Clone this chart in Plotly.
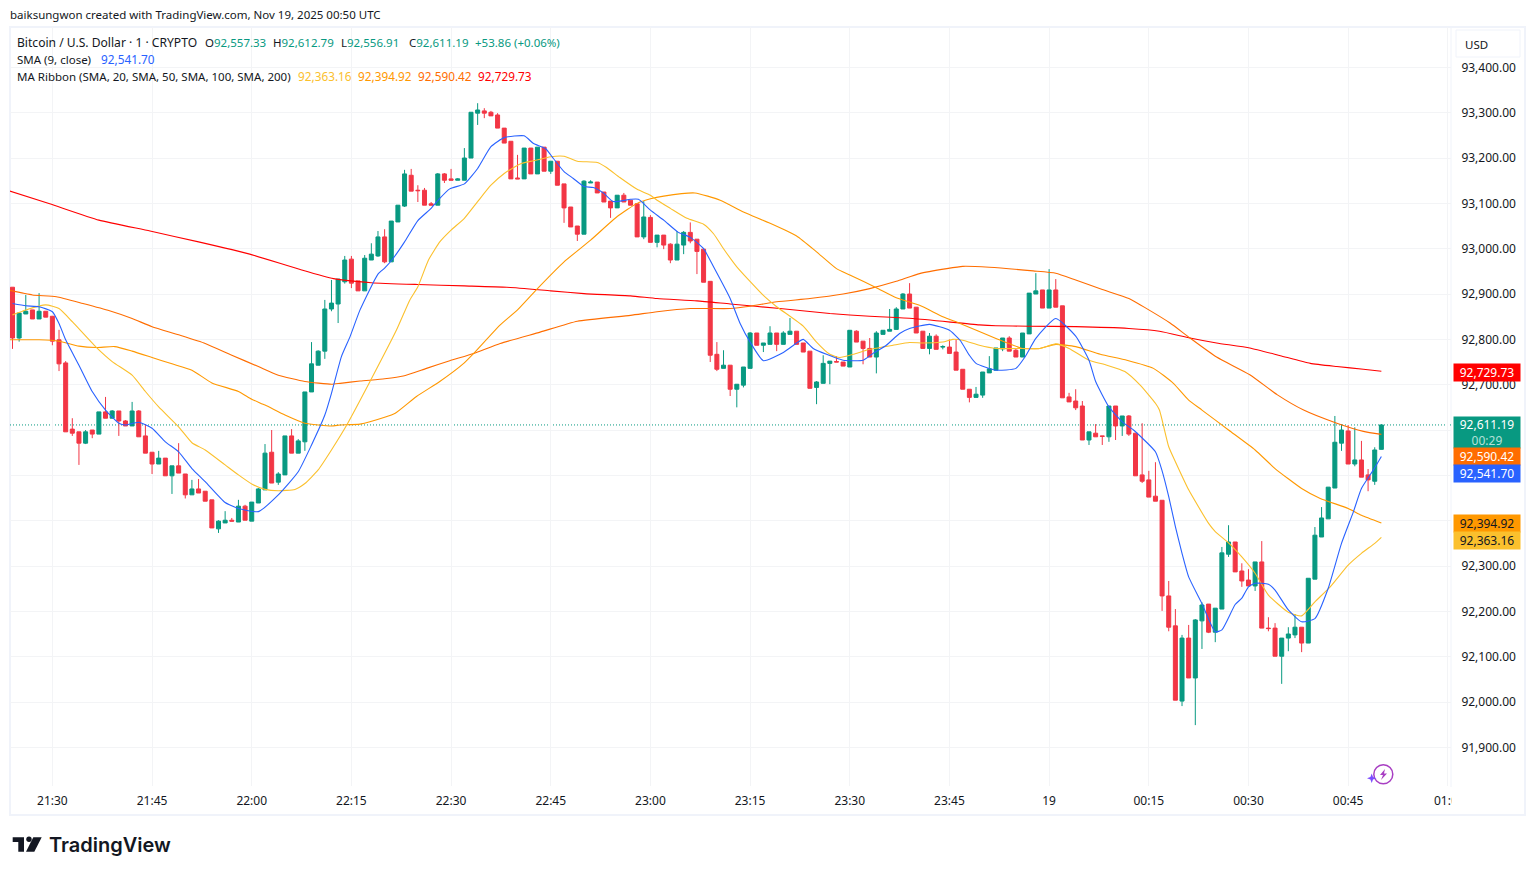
import pandas as pd
import plotly.graph_objects as go

# ---------- data ----------
opens = [92915,92803,92856,92865,92845,92862,92851,92799,92748,92602,
92596,92571,92600,92591,92640,92626,92642,92620,92609,92642,
92587,92551,92525,92538,92499,92521,92503,92457,92470,92465,
92446,92382,92395,92401,92397,92432,92399,92439,92468,92551,
92485,92501,92587,92549,92574,92684,92743,92774,92867,92878,
92927,92977,92929,92907,92975,92984,93026,92971,93059,93094,
93162,93129,93129,93099,93096,93165,93154,93151,93151,93200,
93299,93304,93301,93295,93266,93237,93156,93154,93222,93165,
93224,93171,93193,93143,93092,93050,93032,93145,93147,93125,
93105,93090,93118,93107,93099,93026,93069,93014,93030,93010,
92975,93008,93036,93021,92999,92928,92767,92736,92743,92690,
92699,92736,92814,92787,92789,92814,92789,92811,92818,92792,
92774,92694,92703,92747,92751,92750,92739,92818,92796,92780,
92761,92811,92818,92822,92867,92900,92871,92818,92780,92807,
92783,92783,92772,92734,92690,92672,92677,92726,92732,92779,
92803,92776,92761,92812,92900,92909,92869,92909,92874,92673,
92664,92653,92578,92593,92587,92585,92653,92609,92631,92593,
92501,92490,92454,92445,92234,92168,92002,92141,92053,92179,
92216,92154,92205,92326,92353,92289,92269,92256,92309,92163,
92163,92101,92141,92148,92165,92130,92271,92364,92404,92472,
92571,92598,92525,92534,92501,92487,92557.33]
highs = [92915,92858,92898,92865,92902,92862,92851,92821,92752,92626,
92596,92600,92600,92640,92673,92644,92642,92622,92662,92644,
92613,92551,92554,92538,92521,92571,92503,92490,92492,92465,
92446,92401,92421,92406,92446,92435,92441,92472,92569,92600,
92507,92587,92602,92580,92684,92794,92776,92887,92931,92933,
92984,92984,92929,92986,93012,93039,93043,93061,93096,93174,
93176,93140,93134,93103,93167,93167,93176,93156,93222,93301,
93321,93310,93304,93299,93266,93237,93207,93222,93222,93224,
93224,93193,93193,93143,93092,93050,93151,93151,93147,93125,
93105,93118,93123,93107,93099,93105,93074,93030,93030,93012,
93039,93039,93058,93021,92999,92928,92794,92776,92743,92701,
92739,92816,92814,92792,92829,92814,92818,92847,92818,92792,
92774,92708,92765,92752,92763,92750,92820,92820,92796,92803,
92818,92820,92867,92871,92902,92924,92871,92818,92814,92811,
92787,92800,92800,92734,92690,92695,92728,92763,92781,92803,
92807,92779,92814,92902,92946,92909,92955,92933,92874,92682,
92690,92664,92596,92613,92587,92653,92653,92631,92633,92593,
92615,92510,92529,92445,92267,92205,92148,92170,92183,92220,
92216,92207,92342,92390,92353,92306,92293,92309,92355,92187,
92174,92141,92165,92194,92165,92273,92386,92430,92474,92631,
92613,92611,92606,92576,92514,92562,92612.79]
lows = [92779,92795,92856,92845,92845,92849,92787,92730,92596,92587,
92523,92569,92582,92591,92626,92626,92587,92609,92609,92585,
92549,92503,92525,92499,92459,92505,92449,92457,92461,92443,
92384,92373,92395,92399,92397,92401,92399,92439,92468,92483,
92479,92501,92549,92549,92554,92684,92743,92757,92862,92836,
92923,92913,92907,92907,92975,92982,92968,92971,93059,93092,
93127,93103,93096,93096,93096,93145,93151,93151,93151,93200,
93273,93288,93293,93266,93233,93154,93154,93154,93165,93165,
93171,93165,93140,93057,93048,93017,93032,93145,93123,93103,
93068,93090,93103,93096,93026,93021,93014,93003,92999,92968,
92975,92988,93012,92944,92926,92750,92730,92736,92675,92650,
92694,92736,92787,92772,92789,92774,92789,92811,92789,92772,
92692,92657,92703,92701,92750,92741,92739,92794,92745,92761,
92725,92811,92818,92822,92867,92869,92814,92780,92767,92778,
92778,92769,92732,92690,92661,92672,92671,92726,92732,92774,
92774,92761,92761,92812,92900,92869,92869,92871,92671,92662,
92644,92578,92567,92585,92567,92574,92578,92587,92587,92499,
92483,92452,92443,92201,92156,92004,91991,92053,91949,92117,
92152,92132,92205,92320,92287,92254,92256,92245,92163,92156,
92101,92040,92112,92141,92110,92130,92271,92364,92404,92472,
92554,92525,92520,92496,92465,92479,92556.91]
closes = [92803,92858,92862,92845,92862,92849,92796,92746,92596,92593,
92571,92596,92591,92640,92626,92642,92620,92609,92642,92585,
92549,92525,92538,92499,92521,92505,92457,92470,92461,92443,
92384,92399,92401,92399,92432,92401,92441,92470,92549,92483,
92503,92587,92549,92576,92684,92746,92774,92867,92880,92933,
92975,92924,92907,92979,92988,93026,92971,93061,93096,93165,
93127,93128,93096,93096,93165,93151,93151,93154,93200,93301,
93306,93299,93293,93266,93233,93154,93154,93222,93165,93224,
93171,93193,93140,93090,93048,93032,93149,93147,93123,93103,
93090,93118,93103,93096,93026,93070,93014,93030,93008,92975,
93010,93036,93017,92994,92926,92765,92734,92743,92690,92701,
92739,92814,92787,92792,92814,92789,92814,92818,92789,92772,
92692,92706,92747,92752,92750,92741,92820,92794,92780,92761,
92814,92820,92822,92867,92900,92869,92814,92780,92807,92778,
92784,92769,92732,92690,92672,92679,92728,92735,92781,92803,
92774,92761,92814,92902,92907,92869,92909,92871,92671,92662,
92649,92578,92596,92585,92586,92653,92609,92631,92591,92499,
92487,92452,92443,92234,92165,92004,92141,92053,92181,92214,
92154,92207,92329,92353,92287,92267,92256,92309,92163,92162,
92101,92141,92150,92165,92130,92273,92368,92406,92474,92573,
92600,92525,92534,92496,92490,92556,92611.19]

# line readings: minutes after 21:24 and price
sma9_t = [0,2,4,6,7,8,10,12,14,16,17,19,21,23,25,27,29,32,34,37,40,43,45,47,48,49.5,50.8,52.3,55,56,57.3,59,61,63,64.3,65.8,68,70,72,74,77,78.4,80.2,81.4,83,84.4,86,87.4,89,90.4,93,94.2,96,98,100.2,102,104,105.5,108,109.5,111,113,116,118,119,120.5,122.5,125,128,129.5,131.5,133.5,135,138,141,142.6,144,145,148,151,152.4,154,157,160,162,163,165,167,168.7,172,173,174,175,176,177,179,181,182,184,185,186,187,189,190,192,194,196,198,200,201.8,203,204.8,206]
sma9_v = [92879,92874,92872,92861,92835,92799,92743,92685,92644,92615,92611,92617,92604,92574,92552,92515,92486,92440,92427,92420,92457,92508,92567,92633,92681,92762,92806,92865,92944,92957,92979,93015,93062,93089,93111,93132,93143,93177,93225,93245,93249,93232,93221,93199,93170,93155,93137,93135,93122,93104,93109,93109,93085,93063,93036,93025,93000,92960,92890,92835,92794,92753,92771,92792,92800,92780,92767,92754,92754,92769,92787,92813,92824,92833,92820,92798,92765,92747,92732,92736,92762,92802,92846,92807,92754,92707,92651,92618,92600,92552,92510,92453,92387,92328,92276,92217,92155,92159,92215,92229,92254,92262,92260,92247,92203,92177,92184,92251,92350,92420,92471,92512,92541.70]

sma20_t = [0,2,5,7,9,12.5,15,18,20,22,25,27,29,32,34,36,38,40,42.5,44,46,48,50.3,53.8,57.8,59.8,61,62.6,64.3,66,68,70,72,74,76.4,78.4,81,83,85,88,89.4,91.4,94,96,97,99,101.5,104,105.5,107,109,113,115,119,121,123,124.5,126.5,129,132.5,135,137,140,141.5,143,145.5,148,152,154.6,157,159,162,164.7,167.4,169.7,172,172.6,174,175,177,180,181,183,185,187,189,192,194,196,198.3,201,203,205,206]
sma20_v = [92854,92865,92876,92868,92839,92784,92751,92721,92685,92651,92607,92572,92556,92523,92501,92481,92469,92466,92469,92482,92512,92556,92611,92707,92821,92887,92916,92975,93015,93041,93067,93104,93140,93166,93187,93194,93203,93204,93193,93190,93179,93157,93131,93118,93107,93089,93067,93054,93033,93000,92960,92897,92872,92829,92794,92767,92760,92767,92778,92787,92793,92792,92794,92800,92798,92787,92780,92780,92780,92790,92780,92754,92743,92729,92699,92659,92644,92563,92530,92468,92394,92376,92351,92320,92284,92236,92198,92190,92221,92254,92302,92328,92350,92363.16]

sma50_t = [-0.4,4,7,10,12.6,15.4,18,21,24,27,30,34,36,38,41,44,48,49.3,52.3,56,57.6,60.8,64.3,67.9,69.4,73.4,76,79,83,87,91,94,96,98,102.7,106.5,110,114,118,121,124,126,130,133,136.5,140,142.6,148,152,154.6,157,160,163.7,167.7,171.7,174.7,177,179,183,187,190,194,196.8,201,203,206]
sma50_v = [92799,92799,92796,92785,92782,92784,92774,92760,92746,92732,92704,92685,92668,92655,92633,92615,92609,92611,92613,92628,92637,92674,92707,92747,92769,92832,92865,92912,92971,93019,93071,93100,93110,93116,93123,93107,93081,93056,93028,92993,92956,92942,92914,92892,92875,92850,92835,92802,92780,92780,92789,92784,92767,92754,92736,92703,92666,92644,92600,92556,92515,92471,92449,92427,92412,92394.92]

sma100_t = [-0.4,3,6.6,10.6,14.6,18,21,25,29,33,37,40,44,48,49.3,52.3,56,58.8,62.3,65.8,69.4,73.4,79.4,85,93,97,102,108,111,115,120,125,129,133,136.5,140.6,143,147,153.6,157,160,164,168,171,174.2,177.2,181.2,186.2,190.3,194.3,199.3,203.3,206]
sma100_v = [92908,92898,92894,92879,92863,92846,92828,92810,92791,92765,92740,92721,92707,92701,92703,92708,92713,92719,92736,92753,92769,92791,92816,92840,92853,92861,92868,92868,92873,92883,92890,92900,92912,92928,92945,92956,92961,92959,92951,92946,92931,92910,92890,92865,92836,92803,92761,92722,92678,92644,92615,92597,92590.42]

sma200_t = [-0.4,5.6,13,20.7,28,35.7,43.3,48.3,54,61,68,74.4,81,86,93,97,103,108,115.5,123,129,135.5,145.5,148,153,160,168,172.6,177.2,181.2,186.2,190.8,195.3,199.3,203.3,206]
sma200_v = [93127,93099,93063,93039,93015,92988,92954,92934,92925,92921,92918,92915,92907,92901,92896,92890,92885,92878,92868,92857,92851,92846,92832,92830,92829,92828,92824,92818,92803,92792,92781,92764,92747,92740,92734,92729.73]

price_ticks = [91900,92000,92100,92200,92300,92400,92500,92600,92700,92800,92900,93000,93100,93200,93300,93400]
price_labels = ["91,900.00","92,000.00","92,100.00","92,200.00","92,300.00","","","","92,700.00","92,800.00","92,900.00","93,000.00","93,100.00","93,200.00","93,300.00","93,400.00"]
time_tick_minutes = [6,21,36,51,66,81,96,111,126,141,156,171,186,201,216]
time_tick_labels = ["21:30","21:45","22:00","22:15","22:30","22:45","23:00","23:15","23:30","23:45","19","00:15","00:30","00:45",""]

# ---------- styling ----------
FONT = "Noto Sans"
INK = "#131722"
GREEN = "#089981"
RED = "#f23645"
C_BLUE = "#2962ff"
C_YEL = "#fbc02d"
C_O50 = "#ff9800"
C_O100 = "#ff6d00"
C_RED = "#ff0000"
GRID = "#f3f4f6"
EDGE = "#f0f3fa"

W, H = 1534, 875
L, R, T, B = 10, 1451, 27, 786
def xp(x): return (x - L) / (R - L)
def yp(y): return 1 - (y - T) / (B - T)

t0 = pd.Timestamp("2025-11-18 21:24:00")
def times(m): return t0 + pd.to_timedelta(list(m), unit="m")
PX_PER_MIN = 6.645
x_start = t0 + pd.to_timedelta((L - 12.5) / PX_PER_MIN, unit="m")
x_end = t0 + pd.to_timedelta((R - 12.5) / PX_PER_MIN, unit="m")
PX_PER_USD = 0.4533
y_top = 92000 + (702 - T) / PX_PER_USD
y_bot = 92000 + (702 - B) / PX_PER_USD

fig = go.Figure()
fig.add_trace(go.Candlestick(
    x=times(range(len(opens))), open=opens, high=highs, low=lows, close=closes,
    increasing=dict(line=dict(color=GREEN, width=1), fillcolor=GREEN),
    decreasing=dict(line=dict(color=RED, width=1), fillcolor=RED),
    whiskerwidth=0, hoverinfo="skip", showlegend=False))
for tt, vv, col in [(sma200_t, sma200_v, C_RED), (sma100_t, sma100_v, C_O100), (sma50_t, sma50_v, C_O50),
                    (sma20_t, sma20_v, C_YEL), (sma9_t, sma9_v, C_BLUE)]:
    fig.add_trace(go.Scatter(x=times(tt), y=vv, mode="lines", hoverinfo="skip", showlegend=False,
                             line=dict(color=col, width=1.1, shape="spline", smoothing=0.5)))

notes = []
def note(x, y, text, color=INK, size=11.5, anchor="left", weight=None, font=FONT):
    f = dict(family=font, size=size, color=color)
    if weight: f["weight"] = weight
    notes.append(dict(xref="paper", yref="paper", x=xp(x - 1), y=yp(y), text=text, showarrow=False,
                      xanchor=anchor, yanchor="middle", font=f, borderpad=0))

def tag(y0, y1, text, bg, fg):
    notes.append(dict(xref="paper", yref="paper", x=xp(1453), y=yp((y0 + y1) / 2), text=text, showarrow=False,
                      xanchor="left", yanchor="middle", width=66, height=y1 - y0, bgcolor=bg, align="center",
                      font=dict(family=FONT, size=12, color=fg), borderpad=0))

note(10, 14, "baiksungwon created with TradingView.com, Nov 19, 2025 00:50 UTC")
note(17, 42, "Bitcoin / U.S. Dollar · 1 · CRYPTO", size=12.1)
sp = lambda c, s: f'<span style="color:{c}">{s}</span>'
for x_, letter, val in [(205, "O", "92,557.33"), (273, "H", "92,612.79"), (341, "L", "92,556.91"), (409, "C", "92,611.19")]:
    note(x_, 42, letter + sp(GREEN, val))
note(475, 42, "+53.86 (+0.06%)", GREEN)
note(17, 59, "SMA (9, close)")
note(101, 59, "92,541.70", C_BLUE, 11.8)
note(17, 76, "MA Ribbon (SMA, 20, SMA, 50, SMA, 100, SMA, 200)")
for x_, val, col in [(298, "92,363.16", C_YEL), (358, "92,394.92", C_O50), (418, "92,590.42", C_O100), (478, "92,729.73", C_RED)]:
    note(x_, 76, val, col, 11.8)

note(1465, 44, "USD")

tag(364, 381, "92,729.73", C_RED, "#ffffff")
tag(417, 448, '92,611.19<br><span style="color:#b5e0d8">00:29</span>', GREEN, "#ffffff")
tag(448, 465, "92,590.42", C_O100, "#ffffff")
tag(465, 482, "92,541.70", C_BLUE, "#ffffff")
tag(515, 532, "92,394.92", C_O50, INK)
tag(532, 549, "92,363.16", C_YEL, INK)

note(1433.5, 800, "01:0", size=12)
notes.append(dict(xref="paper", yref="paper", x=xp(1451), y=yp(800), text=" ", showarrow=False, xanchor="left",
                  yanchor="middle", width=14, height=16, bgcolor="#ffffff", borderpad=0))
note(48.5, 845, "TradingView", "#131722", 20, weight=600, font="Inter")

def poly(pts, fill, line=None):
    d = "M " + " L ".join(f"{xp(a):.5f},{yp(b):.5f}" for a, b in pts) + " Z"
    return dict(type="path", xref="paper", yref="paper", path=d, fillcolor=fill,
                line=dict(width=0 if line is None else 1, color=line or fill), layer="above")

shapes = [
    dict(type="rect", xref="paper", yref="paper", x0=xp(10), x1=xp(1525), y0=yp(27), y1=yp(815),
         line=dict(color=EDGE, width=2), layer="below"),
    dict(type="line", xref="paper", yref="paper", x0=xp(1451), x1=xp(1451), y0=yp(27), y1=yp(787),
         line=dict(color=EDGE, width=1), layer="below"),
    dict(type="line", xref="paper", yref="y", x0=0, x1=1, y0=closes[-1], y1=closes[-1],
         line=dict(color=GREEN, width=1, dash="1px,2px"), layer="below"),
    dict(type="rect", xref="paper", yref="paper", x0=xp(1456), x1=xp(1520), y0=yp(30), y1=yp(57),
         line=dict(color=EDGE, width=1), layer="below"),
    # TradingView mark
    poly([(12.7, 837.3), (24, 837.3), (24, 851.7), (18.3, 851.7), (18.3, 842), (12.7, 842)], INK),
    dict(type="circle", xref="paper", yref="paper", x0=xp(26.3), x1=xp(31.7), y0=yp(842), y1=yp(836.6),
         fillcolor=INK, line=dict(width=0), layer="above"),
    poly([(33.3, 837.3), (41.7, 837.3), (34.3, 851.7), (26, 851.7)], INK),
    # spark icon
    dict(type="circle", xref="paper", yref="paper", x0=xp(1373.8), x1=xp(1392.8), y0=yp(783.8), y1=yp(764.8),
         line=dict(color="#a83fc3", width=1.5), layer="above"),
    poly([(1385, 769), (1380, 775), (1383, 775), (1381, 780), (1387, 773.5), (1384, 773.5)], "#a83fc3"),
    poly([(1371.7, 773.5), (1373, 777), (1376.5, 778.3), (1373, 779.6), (1371.7, 783), (1370.4, 779.6), (1367, 778.3), (1370.4, 777)], "#7c4dff"),
]

fig.update_layout(
    width=W, height=H, autosize=False,
    margin=dict(l=L, r=W - R, t=T, b=H - B, pad=0),
    paper_bgcolor="#ffffff", plot_bgcolor="#ffffff",
    showlegend=False, hovermode=False, dragmode=False,
    boxgap=0.33, boxgroupgap=0.1,
    font=dict(family=FONT, size=12, color=INK),
    annotations=notes, shapes=shapes,
    xaxis=dict(type="date", range=[x_start, x_end], rangeslider=dict(visible=False),
               tickmode="array", tickvals=list(times(time_tick_minutes)), ticktext=time_tick_labels,
               showgrid=True, gridcolor=GRID, gridwidth=1, zeroline=False, showline=False,
               ticks="outside", ticklen=4, tickcolor="#ffffff", tickfont=dict(family=FONT, size=12, color=INK)),
    yaxis=dict(side="right", range=[y_bot, y_top], tickmode="array", tickvals=price_ticks, ticktext=price_labels,
               showgrid=True, gridcolor=GRID, gridwidth=1, zeroline=False, showline=False,
               ticks="outside", ticklen=7, tickcolor="#ffffff", tickfont=dict(family=FONT, size=12, color=INK)),
)

fig.write_html("out.html", config=dict(displayModeBar=False, staticPlot=True),
               post_script="document.body.style.margin='0';document.body.style.overflow='hidden';")
